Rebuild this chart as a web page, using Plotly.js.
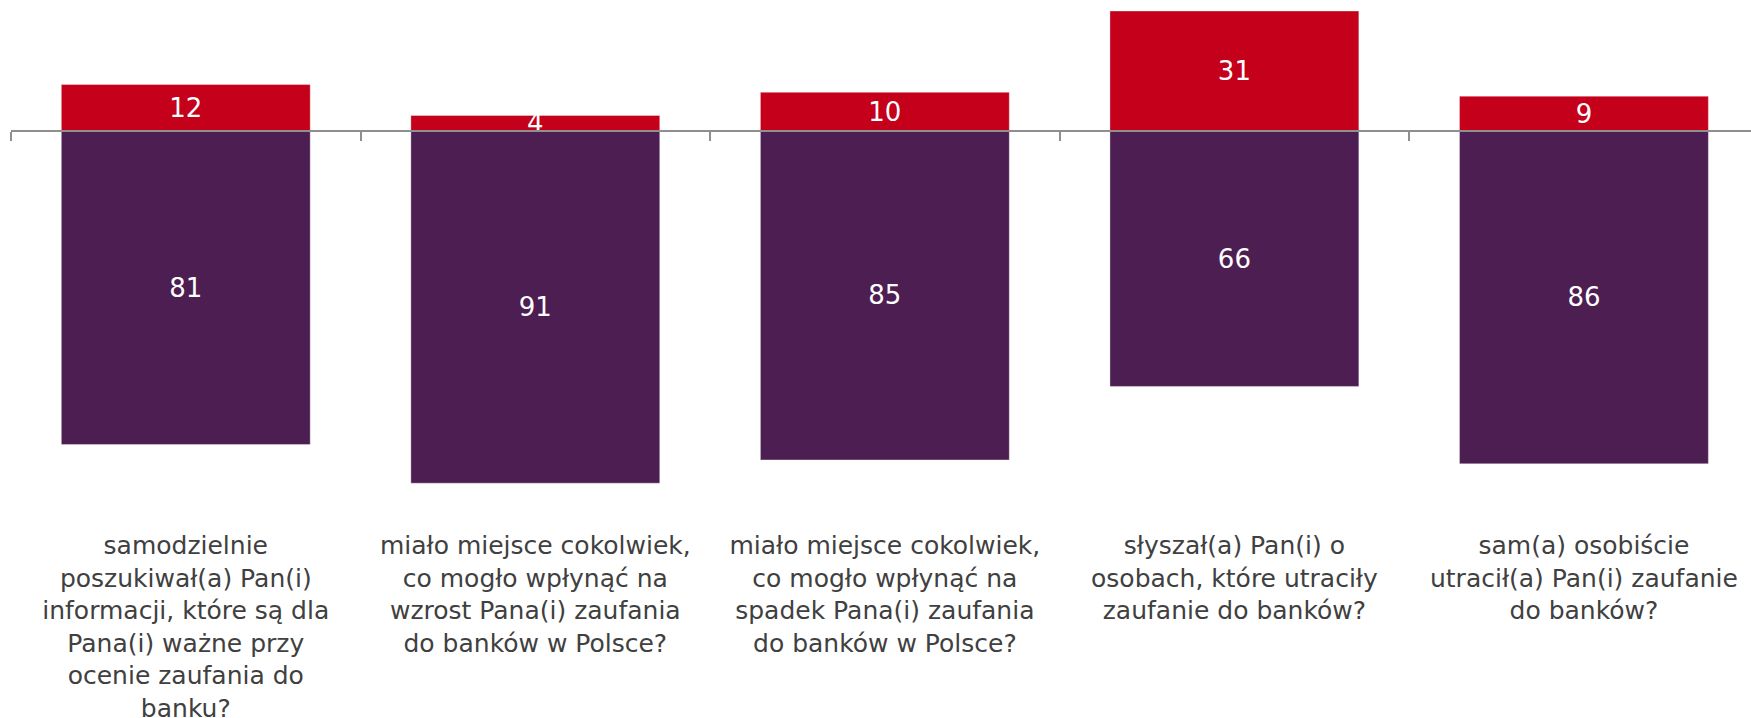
<!DOCTYPE html>
<html>
<head>
<meta charset="utf-8">
<script src="https://cdn.plot.ly/plotly-3.0.1.min.js"></script>
<style>html,body{margin:0;padding:0;background:#fff;}#chart{width:1751px;height:718px;}</style>
</head>
<body>
<div id="chart"></div>
<script>
const categories = [
  "samodzielnie<br>poszukiwał(a) Pan(i)<br>informacji, które są dla<br>Pana(i) ważne przy<br>ocenie zaufania do<br>banku?",
  "miało miejsce cokolwiek,<br>co mogło wpłynąć na<br>wzrost Pana(i) zaufania<br>do banków w Polsce?",
  "miało miejsce cokolwiek,<br>co mogło wpłynąć na<br>spadek Pana(i) zaufania<br>do banków w Polsce?",
  "słyszał(a) Pan(i) o<br>osobach, które utraciły<br>zaufanie do banków?",
  "sam(a) osobiście<br>utracił(a) Pan(i) zaufanie<br>do banków?"
];
const yesValues = [12, 4, 10, 31, 9];
const noValues = [81, 91, 85, 66, 86];

const pxPerUnit = 3.87;
const zeroY = 131;
const H = 718;
const yMax = zeroY / pxPerUnit;
const yMin = -(H - zeroY) / pxPerUnit;
const W = 1751, L = 11.2, catPx = 349.5;
const xMax = -0.5 + (W - L) / catPx;

const valueFont = {family: "DejaVu Sans, Verdana, sans-serif", size: 26, color: "#ffffff"};

const traces = [
  {
    type: "bar", x: categories, y: yesValues,
    text: yesValues.map(String), textposition: "inside", insidetextanchor: "middle",
    constraintext: "none", textangle: 0, textfont: valueFont,
    marker: {color: "#c4001a", line: {color: "rgba(255,255,255,0.35)", width: 1}},
    hoverinfo: "skip", cliponaxis: false
  },
  {
    type: "bar", x: categories, y: noValues.map(v => -v),
    text: noValues.map(String), textposition: "inside", insidetextanchor: "middle",
    constraintext: "none", textangle: 0, textfont: valueFont,
    marker: {color: "#4c1e51", line: {color: "rgba(255,255,255,0.35)", width: 1}},
    hoverinfo: "skip"
  }
];

const layout = {
  width: W, height: H,
  margin: {l: L, r: 0, t: 0, b: 0},
  paper_bgcolor: "#ffffff", plot_bgcolor: "#ffffff",
  barmode: "relative", bargap: 0.288,
  showlegend: false,
  font: {family: "DejaVu Sans, Verdana, sans-serif", size: 25, color: "#404040"},
  xaxis: {
    type: "category", range: [-0.5, xMax],
    anchor: "free", position: (0 - yMin) / (yMax - yMin),
    showline: true, linecolor: "#8f8f8f", linewidth: 2,
    ticks: "outside", tickson: "boundaries", ticklen: 9, tickwidth: 2, tickcolor: "#8f8f8f",
    showgrid: false, zeroline: false, automargin: false,
    ticklabelstandoff: 392,
    tickfont: {family: "DejaVu Sans, Verdana, sans-serif", size: 25, color: "#404040"}
  },
  yaxis: {
    range: [yMin, yMax], visible: false, showgrid: false, zeroline: false, fixedrange: true
  }
};

Plotly.newPlot("chart", traces, layout, {staticPlot: true, displayModeBar: false});
</script>
</body>
</html>
